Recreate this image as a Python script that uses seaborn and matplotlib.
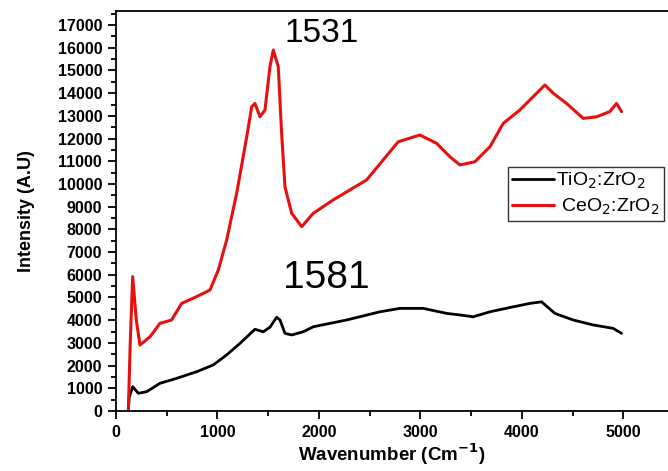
import pandas as pd
import matplotlib.pyplot as plt
import seaborn as sns
from matplotlib.ticker import MultipleLocator

# valores --------------------------------------------------------------------------------------------
tio2_x = [121, 130, 164, 220, 302, 433, 598, 795, 959, 1090, 1222, 1369, 1451, 1517, 1583, 1616,
          1665, 1731, 1845, 1944, 2273, 2601, 2798, 3028, 3258, 3389, 3520, 3685, 3915, 4079, 4194,
          4325, 4505, 4703, 4900, 4982]
tio2_y = [0, 600, 1070, 780, 850, 1220, 1440, 1730, 2030, 2470, 2980, 3600, 3490, 3690, 4130, 4010,
          3420, 3350, 3490, 3710, 4010, 4370, 4520, 4520, 4300, 4230, 4150, 4370, 4590, 4740, 4810,
          4300, 4010, 3790, 3640, 3420]

ceo2_x = [121, 140, 164, 200, 236, 335, 433, 548, 647, 795, 926, 1008, 1090, 1189, 1288, 1337,
          1369, 1419, 1468, 1517, 1550, 1599, 1632, 1665, 1731, 1830, 1944, 2141, 2470, 2781,
          2995, 3160, 3291, 3389, 3537, 3685, 3816, 3980, 4112, 4227, 4309, 4440, 4604, 4736,
          4867, 4933, 4982]
ceo2_y = [0, 3000, 5920, 4000, 2910, 3270, 3860, 4010, 4740, 5040, 5330, 6210, 7530, 9590, 12080,
          13400, 13550, 12960, 13260, 15170, 15900, 15170, 12230, 9880, 8710, 8120, 8710, 9300,
          10180, 11860, 12160, 11790, 11200, 10840, 10980, 11640, 12670, 13260, 13850, 14360,
          14000, 13550, 12890, 12960, 13190, 13550, 13190]

labels = ['TiO$_2$:ZrO$_2$', ' CeO$_2$:ZrO$_2$']
peaks = ['1531', '1581']

df_tio2 = pd.DataFrame({'x': tio2_x, 'y': tio2_y})
df_ceo2 = pd.DataFrame({'x': ceo2_x, 'y': ceo2_y})

# grafico -------------------------------------------------------------------------------------------
sns.set_style('ticks')
plt.rcParams['font.family'] = ['Liberation Sans', 'DejaVu Sans']
plt.rcParams.update({'text.color': 'black', 'axes.labelcolor': 'black', 'axes.edgecolor': 'black',
                     'xtick.color': 'black', 'ytick.color': 'black'})

fig = plt.figure(figsize=(6.68, 4.71), dpi=100)
ax = fig.add_axes([0.1737, 0.1274, 0.8263, 0.8492])

sns.lineplot(data=df_tio2, x='x', y='y', sort=False, estimator=None, color='black',
             linewidth=2, label=labels[0], ax=ax)
sns.lineplot(data=df_ceo2, x='x', y='y', sort=False, estimator=None, color='#e8100f',
             linewidth=2.2, label=labels[1], ax=ax)

ax.set_xlim(0, 5440)
ax.set_ylim(0, 17620)
ax.xaxis.set_major_locator(MultipleLocator(1000))
ax.xaxis.set_minor_locator(MultipleLocator(500))
ax.yaxis.set_major_locator(MultipleLocator(1000))
ax.yaxis.set_minor_locator(MultipleLocator(500))
ax.tick_params(which='major', length=6, width=1.3, direction='out', pad=4)
ax.tick_params(which='minor', length=3.5, width=1.3, direction='out')
for lab in ax.get_xticklabels() + ax.get_yticklabels():
    lab.set_fontweight('bold')
    lab.set_fontsize(11.5)

for s in ['left', 'bottom', 'top']:
    ax.spines[s].set_linewidth(1.3)
ax.spines['right'].set_visible(False)

ax.set_xlabel(r'Wavenumber (Cm$^{\mathbf{-1}}$)', fontsize=13.5, fontweight='bold', labelpad=1)
ax.set_ylabel('Intensity (A.U)', fontsize=13, fontweight='bold', labelpad=16)

ax.text(2030, 16650, peaks[0], fontsize=24, ha='center', va='center')
ax.text(2069, 5880, peaks[1], fontsize=28, ha='center', va='center')

leg = ax.legend(loc='upper left', bbox_to_anchor=(0.760, 0.6454), bbox_transform=fig.transFigure,
                frameon=True, fancybox=False, edgecolor='black', fontsize=14, handlelength=2.2,
                handletextpad=0.1, borderpad=0.2, labelspacing=0.3, borderaxespad=0)
leg.get_frame().set_linewidth(1)

plt.savefig('out.png', dpi=100)
